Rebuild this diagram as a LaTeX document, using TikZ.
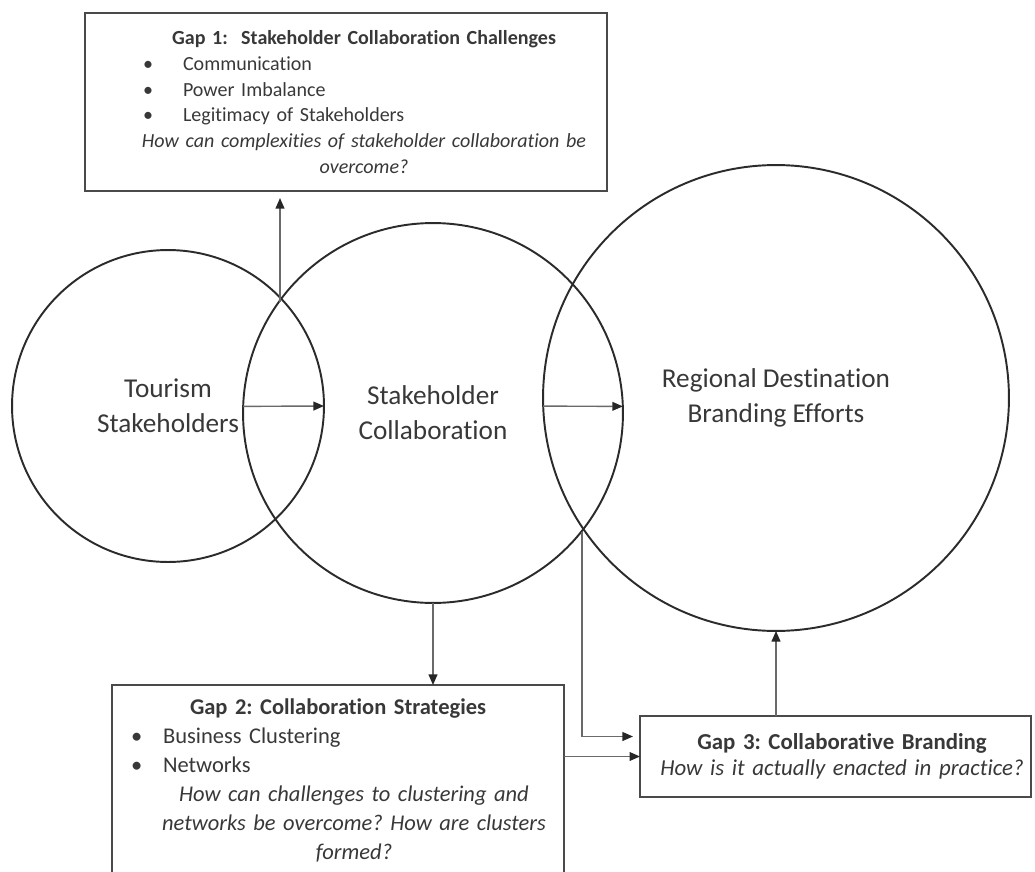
\documentclass[tikz,border=0pt]{standalone}
\usepackage{fontspec}
\setmainfont{Carlito}[Ligatures=NoCommon]
\usetikzlibrary{arrows.meta,calc}

\setlength{\parindent}{0pt}
\frenchspacing

\definecolor{textgray}{HTML}{383838}
\definecolor{linegray}{HTML}{2B2B2B}
\definecolor{arrowgray}{HTML}{6A6A6A}
\definecolor{boxgray}{HTML}{4A4A4A}

\newcommand{\midline}[2]{\makebox[\hsize]{\hspace*{#1}#2}}
\newcommand{\bulletline}[3]{\hspace*{#1}\makebox[#2][l]{\textbullet}#3}

\tikzset{
	ring/.style={circle, draw=linegray, line width=1.1pt, inner sep=0pt, outer sep=0pt, align=center, text=textgray, font=\fontsize{15.5}{20}\selectfont},
	gapbox/.style={rectangle, draw=boxgray, line width=1.2pt, inner sep=0pt, outer sep=0pt, align=left, text=textgray},
	arr/.style={draw=arrowgray, line width=0.8pt, -{Triangle[length=6pt,width=5pt,color=black!85]}}
}

\begin{document}
\begin{tikzpicture}[x=0.02cm, y=-0.02cm]
	\useasboundingbox (0,0) rectangle (1035,872);
	\node[ring, minimum size=6.24cm] (tour) at (168,406) {Tourism\\Stakeholders};
	\node[ring, minimum size=7.6cm] (collab) at (433,413) {Stakeholder\\Collaboration};
	\node[ring, minimum size=9.32cm] (brand) at (776,398) {Regional Destination\\Branding Efforts};
	\coordinate (x12) at (280,302);
	\coordinate (x23) at (582,532);

	\node[gapbox, minimum height=3.56cm, text width=10.44cm, font=\fontsize{11.4}{14.7}\selectfont] (gapone) at (346,102) {%
		\midline{0.72cm}{\textbf{Gap 1:~ Stakeholder Collaboration Challenges}}\\
		\bulletline{1.16cm}{0.8cm}{Communication}\\
		\bulletline{1.16cm}{0.8cm}{Power Imbalance}\\
		\bulletline{1.16cm}{0.8cm}{Legitimacy of Stakeholders}\\
		\midline{0.72cm}{\itshape How can complexities of stakeholder collaboration be}\\
		\midline{0.72cm}{\itshape overcome?}};
	\node[gapbox, anchor=north, minimum height=3.8cm, text width=9.04cm, font=\fontsize{12.8}{16.5}\selectfont] (gaptwo) at (338,685) {%
		\midline{0cm}{\textbf{Gap 2: Collaboration Strategies}}\\
		\bulletline{0.38cm}{0.64cm}{Business Clustering}\\
		\bulletline{0.38cm}{0.64cm}{Networks}\\
		\midline{0.64cm}{\itshape How can challenges to clustering and}\\
		\midline{0.64cm}{\itshape networks be overcome? How are clusters}\\
		\midline{0.64cm}{\itshape formed?}};
	\node[gapbox, minimum height=1.62cm, text width=7.82cm, font=\fontsize{13}{14.5}\selectfont] (gapthree) at (835.5,756.5) {%
		\midline{0.26cm}{\textbf{Gap 3: Collaborative Branding}}\\
		\midline{0.26cm}{\itshape How is it actually enacted in practice?}};

	\draw[arr] (collab.178) -- (tour.0);
	\draw[arr] (brand.182) -- (collab.2);
	\draw[arr, shorten >=4pt] (x12) -- (x12 |- gapone.south);
	\draw[arr] (collab.south) -- (collab.south |- gaptwo.north);
	\draw[arr] (gapthree.north -| brand.south) -- (brand.south);
	\draw[arr, shorten >=4pt] (x23) |- ($(gapthree.west)+(0,-20)$);
	\draw[arr] (gaptwo.east |- gapthree.west) -- (gapthree.west);
\end{tikzpicture}
\end{document}
